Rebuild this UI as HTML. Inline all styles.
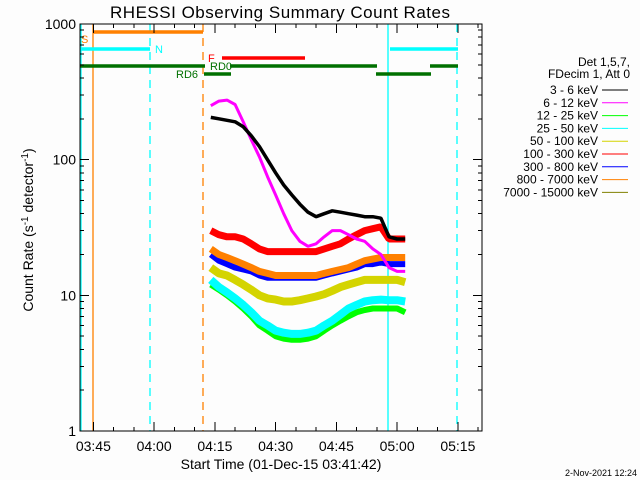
<!DOCTYPE html>
<html><head><meta charset="utf-8"><style>
html,body{margin:0;padding:0;background:#fff;}
svg{display:block;font-family:"Liberation Sans",sans-serif;}
</style></head><body>
<svg id="chart" width="640" height="480" viewBox="0 0 640 480">
<rect x="0" y="0" width="640" height="480" fill="#fdfdfd"/>
<text x="280" y="18" font-size="17" text-anchor="middle" textLength="340">RHESSI Observing Summary Count Rates</text>
<g id="annot"></g>
<g id="series"></g>
<g id="axes" shape-rendering="crispEdges"></g>
<text transform="translate(33,230) rotate(-90)" font-size="14" text-anchor="middle">Count Rate (s<tspan dy="-5" font-size="10">-1</tspan><tspan dy="5"> detector</tspan><tspan dy="-5" font-size="10">-1</tspan><tspan dy="5">)</tspan></text>
<text x="281" y="469" font-size="14" text-anchor="middle">Start Time (01-Dec-15 03:41:42)</text>
<text x="637" y="476" font-size="9" text-anchor="end">2-Nov-2021 12:24</text>
<g id="legend"></g>
</svg>
<script>
// time in minutes after 04:00
const times = [14,16,18,20,22,24,26,28,30,32,34,36,38,40,42,44,46,48,50,52,54,56,58,60,62];
const s3_6 = [205,200,195,190,175,150,125,100,80,65,55,47,41,38,40,42,41,40,39,38,38,37,27,26,26];
const s6_12 = [250,270,275,255,190,140,105,75,55,40,30,25,23,24,27,30,30,28,26,25,22,20,16,15,15];
const s12_25 = [12,11,10,9,8,7,6,5.5,5,4.8,4.7,4.7,4.8,5,5.5,6,6.5,7,7.5,7.8,8,8,8,8,7.5];
const s25_50 = [13,11.5,10.5,9.5,8.5,7.5,6.5,6,5.5,5.3,5.2,5.2,5.3,5.5,6,6.5,7.2,8,8.5,9,9.2,9.3,9.2,9.2,9];
const s50_100 = [16,14.5,14,13,12,11,10,9.5,9.3,9,9,9.2,9.5,9.8,10.2,10.8,11.5,12,12.5,13,13,13,13,13,12.5];
const s100_300 = [30,28,27,27,26,24,22,21,21,21,21,21,21,21,22,23,24,26,28,30,31,32,26,26,26];
const s300_800 = [20,18,17,16,15.5,15,14,13.5,13.5,13.5,13.5,13.5,13.5,13.5,14,14.5,15,15.5,16,17,17,17.5,17,17,17];
const s800_7000 = [22,20,19,18,17,16,15,14.5,14,14,14,14,14,14,14.5,15,15.5,16,17,18,18.5,19,19,19,19];
const yTicks = [1,10,100,1000];
const xTickLabels = ["03:45","04:00","04:15","04:30","04:45","05:00","05:15"];
const xTickMinutes = [-15,0,15,30,45,60,75];
const legendLabels = ["3 - 6 keV","6 - 12 keV","12 - 25 keV","25 - 50 keV","50 - 100 keV","100 - 300 keV","300 - 800 keV","800 - 7000 keV","7000 - 15000 keV"];
const legendColors = ["#000","#ff00ff","#00ff00","#00ffff","#d4d400","#ff0000","#0000ff","#ff8000","#808000"];

const NS="http://www.w3.org/2000/svg";
const L=80,R=482,T=24,B=431;
function xs(m){return L+4.05*(m+18.3);}
function ys(v){return B-(B-T)/3*Math.log10(v);}
function mk(tag,attrs,parent){const e=document.createElementNS(NS,tag);for(const k in attrs)e.setAttribute(k,attrs[k]);parent.appendChild(e);return e;}
const ax=document.getElementById('axes'),sg=document.getElementById('series'),an=document.getElementById('annot'),lg=document.getElementById('legend');

const vls=[[81,'#00ffff',''],[93,'#ff8000',''],[150,'#00ffff','8,6'],[203,'#ff8000','8,6'],[388,'#00ffff',''],[457,'#00ffff','8,6']];
vls.forEach(v=>{const e=mk('line',{x1:v[0],x2:v[0],y1:T,y2:B,stroke:v[1],'stroke-width':1.3,'stroke-dasharray':v[2]},an);

});
const bars=[[93,203,32,'#ff8000'],[80,150,49,'#00ffff'],[390,458,49,'#00ffff'],[222,305,58,'#ff0000'],[80,205,66,'#007000'],[230,377,66,'#007000'],[430,458,66,'#007000'],[204,231,74,'#007000'],[376,431,74,'#007000']];
bars.forEach(b=>{const e=mk('line',{x1:b[0],x2:b[1],y1:b[2],y2:b[2],stroke:b[3],'stroke-width':3.5},an);

});
const labs=[[81,43,'S','#ff8000'],[155,53,'N','#00ffff'],[208,62,'F','#ff0000'],[210,70,'RD0','#007000'],[176,78,'RD6','#007000']];
labs.forEach(l=>{const e=mk('text',{x:l[0],y:l[1],fill:l[3],'font-size':11},an);e.textContent=l[2];

});

const ser=[[s12_25,'#00ff00',6],[s25_50,'#00ffff',8],[s50_100,'#d4d400',8],[s300_800,'#0000ff',6],[s800_7000,'#ff8000',7],[s100_300,'#ff0000',7],[s6_12,'#ff00ff',3],[s3_6,'#000000',3.5]];
ser.forEach(s=>{let d='';times.forEach((t,i)=>{d+=(i?'L':'M')+xs(t).toFixed(1)+' '+ys(s[0][i]).toFixed(1);});
const e=mk('path',{d:d,fill:'none',stroke:s[1],'stroke-width':s[2],'stroke-linejoin':'bevel'},sg);

});

const box=mk('rect',{x:L,y:T,width:R-L,height:B-T,fill:'none',stroke:'#000','stroke-width':1},ax);


yTicks.forEach(v=>{const y=ys(v);
mk('line',{x1:L,x2:L+9,y1:y,y2:y,stroke:'#000'},ax);mk('line',{x1:R,x2:R-9,y1:y,y2:y,stroke:'#000'},ax);
const t=mk('text',{x:L-4,y:y+5,'font-size':14,'text-anchor':'end'},ax);t.textContent=v;


if(v<1000){for(let k=2;k<10;k++){const yy=ys(v*k);mk('line',{x1:L,x2:L+4,y1:yy,y2:yy,stroke:'#000'},ax);mk('line',{x1:R,x2:R-4,y1:yy,y2:yy,stroke:'#000'},ax);}}});
for(let m=-15;m<=80;m+=5){const x=xs(m);if(x>R)break;const maj=(m%15===0);const h=maj?9:4;
mk('line',{x1:x,x2:x,y1:B,y2:B-h,stroke:'#000'},ax);mk('line',{x1:x,x2:x,y1:T,y2:T+h,stroke:'#000'},ax);}
xTickMinutes.forEach((m,i)=>{const t=mk('text',{x:xs(m),y:451,'font-size':14,'text-anchor':'middle'},ax);t.textContent=xTickLabels[i];

});

const h1=mk('text',{x:630,y:66,'font-size':12,'text-anchor':'end'},lg);h1.textContent='Det 1,5,7,';


const h2=mk('text',{x:630,y:78,'font-size':12,'text-anchor':'end'},lg);h2.textContent='FDecim 1, Att 0';


legendLabels.forEach((s,i)=>{const y=90+i*12.8;
const t=mk('text',{x:598,y:y+4,'font-size':12,'text-anchor':'end'},lg);t.textContent=s;


mk('line',{x1:602,x2:628,y1:y,y2:y,stroke:legendColors[i],'stroke-width':1},lg);});
</script>
</body></html>
